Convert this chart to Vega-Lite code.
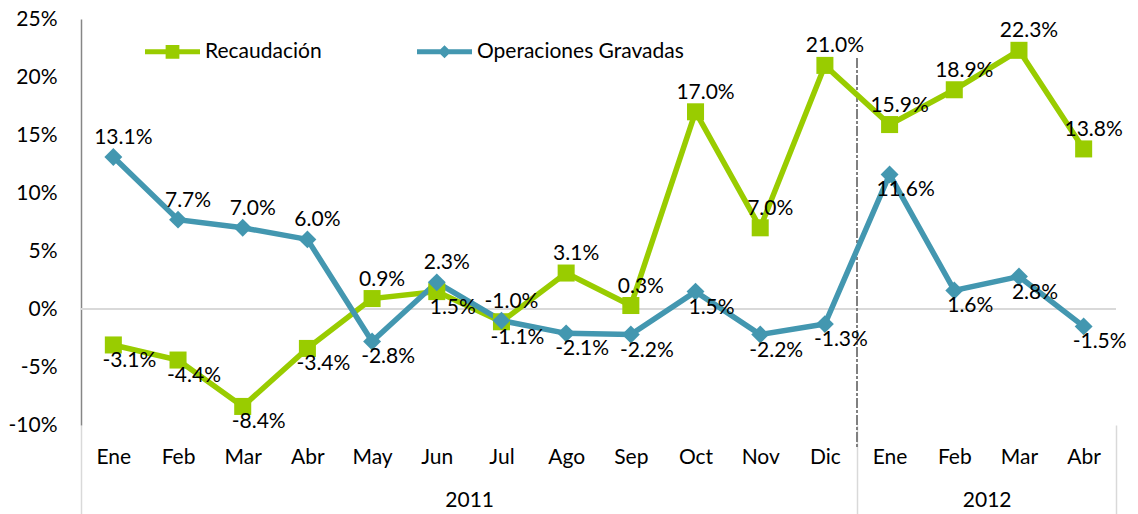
{
  "$schema": "https://vega.github.io/schema/vega-lite/v6.json",
  "width": 1035,
  "height": 406,
  "autosize": "none",
  "padding": {"left": 81, "top": 19, "right": 22, "bottom": 89},
  "background": "white",
  "config": {
    "locale": {"number": {"decimal": ".", "thousands": ",", "grouping": [3], "currency": ["$", ""], "minus": "-"}},
    "view": {"stroke": null},
    "font": "Lato",
    "axis": {"labelFont": "Lato", "labelFontSize": 21, "labelColor": "#000000", "grid": false, "ticks": false, "domain": false}
  },
  "data": {
    "values": [
      {"idx": 1, "serie": "Recaudación", "valor": -0.031},
      {"idx": 2, "serie": "Recaudación", "valor": -0.044},
      {"idx": 3, "serie": "Recaudación", "valor": -0.084},
      {"idx": 4, "serie": "Recaudación", "valor": -0.034},
      {"idx": 5, "serie": "Recaudación", "valor": 0.009},
      {"idx": 6, "serie": "Recaudación", "valor": 0.015},
      {"idx": 7, "serie": "Recaudación", "valor": -0.011},
      {"idx": 8, "serie": "Recaudación", "valor": 0.031},
      {"idx": 9, "serie": "Recaudación", "valor": 0.003},
      {"idx": 10, "serie": "Recaudación", "valor": 0.170},
      {"idx": 11, "serie": "Recaudación", "valor": 0.070},
      {"idx": 12, "serie": "Recaudación", "valor": 0.210},
      {"idx": 13, "serie": "Recaudación", "valor": 0.159},
      {"idx": 14, "serie": "Recaudación", "valor": 0.189},
      {"idx": 15, "serie": "Recaudación", "valor": 0.223},
      {"idx": 16, "serie": "Recaudación", "valor": 0.138},
      {"idx": 1, "serie": "Operaciones Gravadas", "valor": 0.131},
      {"idx": 2, "serie": "Operaciones Gravadas", "valor": 0.077},
      {"idx": 3, "serie": "Operaciones Gravadas", "valor": 0.070},
      {"idx": 4, "serie": "Operaciones Gravadas", "valor": 0.060},
      {"idx": 5, "serie": "Operaciones Gravadas", "valor": -0.028},
      {"idx": 6, "serie": "Operaciones Gravadas", "valor": 0.023},
      {"idx": 7, "serie": "Operaciones Gravadas", "valor": -0.010},
      {"idx": 8, "serie": "Operaciones Gravadas", "valor": -0.021},
      {"idx": 9, "serie": "Operaciones Gravadas", "valor": -0.022},
      {"idx": 10, "serie": "Operaciones Gravadas", "valor": 0.015},
      {"idx": 11, "serie": "Operaciones Gravadas", "valor": -0.022},
      {"idx": 12, "serie": "Operaciones Gravadas", "valor": -0.013},
      {"idx": 13, "serie": "Operaciones Gravadas", "valor": 0.116},
      {"idx": 14, "serie": "Operaciones Gravadas", "valor": 0.016},
      {"idx": 15, "serie": "Operaciones Gravadas", "valor": 0.028},
      {"idx": 16, "serie": "Operaciones Gravadas", "valor": -0.015}
    ]
  },
  "resolve": {"axis": {"x": "independent"}},
  "layer": [
    {
      "mark": {"type": "rule", "color": "#D9D9D9", "strokeWidth": 2},
      "encoding": {
        "y": {
          "datum": 0, "type": "quantitative",
          "scale": {"domain": [-0.1, 0.25], "nice": false, "zero": false},
          "axis": {"title": null, "values": [-0.1, -0.05, 0, 0.05, 0.1, 0.15, 0.2, 0.25], "format": ".0%",
            "labelPadding": 24, "domain": true, "domainColor": "#868686", "domainWidth": 1.5}
        }
      }
    },
    {
      "mark": {"type": "rule", "color": "#808080", "strokeWidth": 1.5, "strokeDash": [9, 3, 2, 3]},
      "encoding": {
        "x": {"datum": 12.5, "type": "quantitative", "scale": {"domain": [0.5, 16.5], "nice": false, "zero": false}, "axis": null},
        "y": {"datum": 0.216, "type": "quantitative"},
        "y2": {"datum": -0.119}
      }
    },
    {
      "mark": {"type": "line", "strokeWidth": 5.5},
      "encoding": {
        "x": {
          "field": "idx", "type": "quantitative",
          "axis": {"orient": "bottom", "title": null, "values": [1,2,3,4,5,6,7,8,9,10,11,12,13,14,15,16],
            "labelExpr": "['','Ene','Feb','Mar','Abr','May','Jun','Jul','Ago','Sep','Oct','Nov','Dic','Ene','Feb','Mar','Abr'][datum.value]",
            "labelPadding": 21, "labelOverlap": false, "labelFlush": false}
        },
        "y": {"field": "valor", "type": "quantitative"},
        "color": {
          "field": "serie", "type": "nominal",
          "scale": {"domain": ["Recaudación", "Operaciones Gravadas"], "range": ["#99CC00", "#4397B0"]},
          "legend": {
            "orient": "none", "legendX": 64, "legendY": 5, "direction": "horizontal", "columns": 2,
            "title": null, "labelFont": "Lato", "labelFontSize": 21, "labelColor": "#000000",
            "labelOffset": 5, "labelLimit": 400, "columnPadding": 95, "symbolSize": 3025, "symbolStrokeWidth": 0,
            "encode": {
              "symbols": {
                "update": {
                  "size": {"value": 3025},
                  "opacity": {"value": 1},
                  "strokeWidth": {"value": 0},
                  "fill": {"signal": "scale('color', datum.value)"},
                  "shape": {"signal": "datum.value === 'Recaudación' ? 'M-1,-0.09L1,-0.09L1,0.09L-1,0.09Z M-0.25,-0.25L0.25,-0.25L0.25,0.25L-0.25,0.25Z' : 'M-1,-0.09L1,-0.09L1,0.09L-1,0.09Z M0,-0.24L0.24,0L0,0.24L-0.24,0Z'"}
                }
              }
            }
          }
        }
      }
    },
    {
      "transform": [{"filter": "datum.serie === 'Recaudación'"}],
      "mark": {"type": "point", "filled": true, "opacity": 1, "size": 290, "shape": "square", "color": "#99CC00"},
      "encoding": {
        "x": {"field": "idx", "type": "quantitative", "axis": null},
        "y": {"field": "valor", "type": "quantitative"}
      }
    },
    {
      "transform": [{"filter": "datum.serie === 'Operaciones Gravadas'"}],
      "mark": {"type": "point", "filled": true, "opacity": 1, "size": 320, "shape": "diamond", "color": "#4397B0"},
      "encoding": {
        "x": {"field": "idx", "type": "quantitative", "axis": null},
        "y": {"field": "valor", "type": "quantitative"}
      }
    },
    {
      "transform": [
        {"joinaggregate": [{"op": "max", "field": "valor", "as": "mayor"}], "groupby": ["idx"]},
        {"filter": "datum.valor === datum.mayor"}
      ],
      "mark": {"type": "text", "fontSize": 21, "font": "Lato", "color": "#000000", "align": "center", "baseline": "middle", "dx": 10, "dy": -19},
      "encoding": {
        "x": {
          "field": "idx", "type": "quantitative",
          "axis": {"orient": "bottom", "title": null, "values": [6.5, 14.5],
            "labelExpr": "datum.value < 12 ? '2011' : '2012'", "labelPadding": 64,
            "labelOverlap": false, "labelFlush": false}
        },
        "y": {"field": "valor", "type": "quantitative"},
        "text": {"field": "valor", "type": "quantitative", "format": ".1%"}
      }
    },
    {
      "transform": [
        {"joinaggregate": [{"op": "max", "field": "valor", "as": "mayor"}], "groupby": ["idx"]},
        {"filter": "datum.valor !== datum.mayor"}
      ],
      "mark": {"type": "text", "fontSize": 21, "font": "Lato", "color": "#000000", "align": "center", "baseline": "middle", "dx": 16, "dy": 16},
      "encoding": {
        "x": {
          "field": "idx", "type": "quantitative",
          "axis": {"orient": "bottom", "title": null, "values": [0.5, 12.5, 16.5],
            "labels": false, "ticks": true, "tickSize": 89, "tickColor": "#D9D9D9", "tickWidth": 1.5, "domain": false}
        },
        "y": {"field": "valor", "type": "quantitative"},
        "text": {"field": "valor", "type": "quantitative", "format": ".1%"}
      }
    }
  ]
}
